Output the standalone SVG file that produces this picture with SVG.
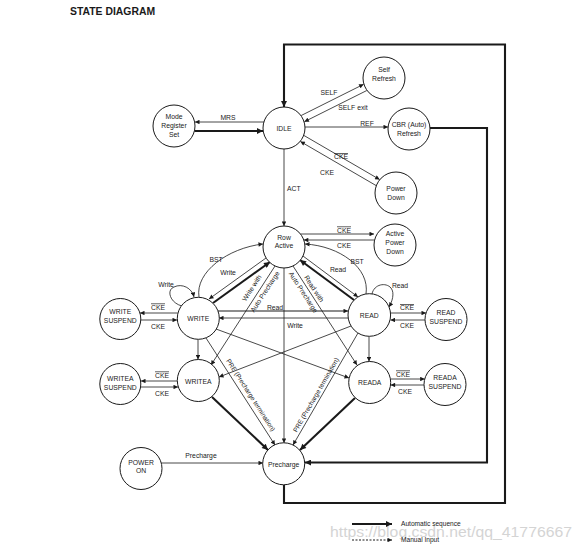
<svg xmlns="http://www.w3.org/2000/svg" width="583" height="557" viewBox="0 0 583 557">
<style>
text{font-family:"Liberation Sans",Arial,Helvetica,sans-serif;font-size:6.8px;fill:#1a1a1a}
.nd{text-anchor:middle}
.node circle{fill:#fff;stroke:#1a1a1a;stroke-width:1}
.c{fill:none;stroke:#1a1a1a;stroke-width:0.8}
.t{fill:none;stroke:#1a1a1a;stroke-width:2.1}
.ov{text-decoration:overline}
.lb{text-anchor:middle}
</style>
<defs>
<marker id="a" viewBox="0 0 10 10" refX="10" refY="5" markerWidth="5.5" markerHeight="4.5" markerUnits="userSpaceOnUse" orient="auto"><path d="M0,0L10,5L0,10z" fill="#1a1a1a"/></marker>
<marker id="b" viewBox="0 0 10 10" refX="10" refY="5" markerWidth="7" markerHeight="6" markerUnits="userSpaceOnUse" orient="auto"><path d="M0,0L10,5L0,10z" fill="#1a1a1a"/></marker>
</defs>
<rect width="583" height="557" fill="#fff"/>
<text x="70" y="15" style="font-size:10.4px;font-weight:bold">STATE DIAGRAM</text>
<text x="330" y="537" textLength="242" lengthAdjust="spacingAndGlyphs" style="font-size:14px;fill:#d4d4d4">https://blog.csdn.net/qq_41776667</text>

<g id="connectors">
<!-- MRS -->
<path class="c" d="M264,122H195" marker-end="url(#a)"/>
<path class="t" d="M194.5,131H263" marker-end="url(#b)"/>
<text class="lb" x="228" y="120">MRS</text>
<!-- SELF -->
<path class="c" d="M301.2,115.5L363.6,84.3" marker-end="url(#a)"/>
<path class="c" d="M366.8,90.5L304.4,121.7" marker-end="url(#a)"/>
<text class="lb" x="329" y="95">SELF</text>
<text class="lb" x="353" y="109.5">SELF exit</text>
<!-- REF -->
<path class="c" d="M305,127H388" marker-end="url(#a)"/>
<text class="lb" x="367" y="125.5">REF</text>
<!-- Power down -->
<path class="c" d="M304,135.5L379.6,179.5" marker-end="url(#a)"/>
<path class="c" d="M376,185.5L300.4,141.5" marker-end="url(#a)"/>
<text class="lb ov" x="341" y="159">CKE</text>
<text class="lb" x="327" y="175">CKE</text>
<!-- ACT -->
<path class="c" d="M284,149V226" marker-end="url(#a)"/>
<text x="287" y="190.5">ACT</text>
<!-- Active power down -->
<path class="c" d="M300.5,234H374" marker-end="url(#a)"/>
<path class="c" d="M374.6,240H303.8" marker-end="url(#a)"/>
<text class="lb ov" x="344" y="232.5">CKE</text>
<text class="lb" x="344" y="248">CKE</text>
<!-- WRITE side -->
<path class="c" d="M199,297C195,272 228,248 263,244" marker-end="url(#a)"/>
<text class="lb" x="216" y="262">BST</text>
<path class="c" d="M266,258L209,299" marker-end="url(#a)"/>
<text class="lb" x="228" y="275">Write</text>
<path class="t" d="M213,303L270,262" marker-end="url(#b)"/>
<!-- READ side -->
<path class="c" d="M366,294C370,268 340,246 305,244" marker-end="url(#a)"/>
<text class="lb" x="357" y="264">BST</text>
<path class="c" d="M303,256L358,297" marker-end="url(#a)"/>
<text class="lb" x="338" y="272">Read</text>
<path class="t" d="M354,300L300,260" marker-end="url(#b)"/>
<!-- Write with auto precharge -->
<path class="c" d="M275,266L211,365" marker-end="url(#a)"/>
<g transform="translate(258,292) rotate(-57)">
<text class="lb" x="0" y="-5">Write with</text>
<text class="lb" x="4" y="8">Auto Precharge</text>
</g>
<!-- Read with auto precharge -->
<path class="c" d="M293,266L357,365" marker-end="url(#a)"/>
<g transform="translate(308.5,290) rotate(57)">
<text class="lb" x="2" y="-3">Read with</text>
<text class="lb" x="-1" y="8">Auto Precharge</text>
</g>
<!-- Row Active to Precharge -->
<path class="c" d="M284,268V443" marker-end="url(#a)"/>
<!-- WRITE <-> READ -->
<path class="c" style="stroke-width:1.1" d="M218,311H348" marker-end="url(#a)"/>
<text class="lb" x="275" y="309.5">Read</text>
<path class="c" d="M348,318H219" marker-end="url(#a)"/>
<text class="lb" x="295" y="327.5">Write</text>
<!-- self loops -->
<path class="c" d="M182,306C170,303 166,290 174,287C182,283 192,288 194,297" marker-end="url(#a)"/>
<text class="lb" x="166" y="287">Write</text>
<path class="c" d="M372,294C374,284 386,282 391,288C395,293 392,302 389,307" marker-end="url(#a)"/>
<text class="lb" x="400" y="287.5">Read</text>
<!-- suspend -->
<path class="c" d="M177.6,313H140" marker-end="url(#a)"/>
<path class="c" d="M140.5,320H177" marker-end="url(#a)"/>
<text class="lb ov" x="158" y="309.5">CKE</text>
<text class="lb" x="158" y="328.5">CKE</text>
<path class="c" d="M390.5,313H426" marker-end="url(#a)"/>
<path class="c" d="M425,320H390.5" marker-end="url(#a)"/>
<text class="lb ov" x="407" y="310">CKE</text>
<text class="lb" x="407" y="328">CKE</text>
<path class="c" d="M177.3,381H141" marker-end="url(#a)"/>
<path class="c" d="M140.6,387H178" marker-end="url(#a)"/>
<text class="lb ov" x="162" y="377.5">CKE</text>
<text class="lb" x="162" y="395.5">CKE</text>
<path class="c" d="M390.4,379H424.7" marker-end="url(#a)"/>
<path class="c" d="M424,385H390.6" marker-end="url(#a)"/>
<text class="lb ov" x="403" y="376.5">CKE</text>
<text class="lb" x="405" y="394">CKE</text>
<!-- verticals -->
<path class="c" d="M198,339.5V359.5" marker-end="url(#a)"/>
<path class="c" d="M369,336.5V361.5" marker-end="url(#a)"/>
<!-- crossings -->
<path class="c" d="M216,329L349,378" marker-end="url(#a)"/>
<path class="c" d="M351,326L219,377" marker-end="url(#a)"/>
<!-- PRE lines -->
<path class="c" d="M206,338L275,445" marker-end="url(#a)"/>
<g transform="translate(242.8,395) rotate(57.2)"><text class="lb" x="4.4" y="-4.4" style="font-size:6.6px">PRE (Precharge termination)</text></g>
<path class="c" d="M358,333L293,445" marker-end="url(#a)"/>
<g transform="translate(322,395) rotate(-60)"><text class="lb" x="-3" y="-3" style="font-size:6.6px">PRE (Precharge termination)</text></g>
<!-- thick to precharge -->
<path class="t" d="M212,397L268,450" marker-end="url(#b)"/>
<path class="t" d="M355,398L300,450" marker-end="url(#b)"/>
<!-- power on -->
<path class="c" d="M161.3,463H263" marker-end="url(#a)"/>
<text class="lb" x="201" y="458">Precharge</text>
<!-- CBR loop -->
<path class="t" d="M430,128H487V462.5H305" marker-end="url(#b)"/>
<!-- outer loop -->
<path class="t" d="M284,485V503H505V44.5H284V107" marker-end="url(#b)"/>
<!-- legend -->
<path class="t" d="M352,524H392" marker-end="url(#b)"/>
<path class="c" style="stroke-dasharray:2,1.5;stroke-width:1" d="M352,540H392" marker-end="url(#a)"/>
</g>
<text x="401" y="526" style="font-size:6.6px">Automatic sequence</text>
<text x="401" y="542" style="font-size:6.6px">Manual Input</text>

<g id="idle" class="node"><circle cx="284" cy="128" r="21"/><text class="nd" x="284" y="130.5">IDLE</text></g>
<g id="mrs" class="node"><circle cx="174" cy="126" r="21"/><text class="nd" x="174" y="118.5">Mode</text><text class="nd" x="174" y="127.5">Register</text><text class="nd" x="174" y="136.5">Set</text></g>
<g id="selfrefresh" class="node"><circle cx="384" cy="78" r="21"/><text class="nd" x="384" y="72">Self</text><text class="nd" x="384" y="80.5">Refresh</text></g>
<g id="cbr" class="node"><circle cx="409" cy="129" r="21"/><text class="nd" x="409" y="126.5">CBR (Auto)</text><text class="nd" x="409" y="135.5">Refresh</text></g>
<g id="powerdown" class="node"><circle cx="396" cy="193" r="21"/><text class="nd" x="396" y="191">Power</text><text class="nd" x="396" y="199.5">Down</text></g>
<g id="rowactive" class="node"><circle cx="284" cy="247" r="21"/><text class="nd" x="284" y="239.5">Row</text><text class="nd" x="284" y="248">Active</text></g>
<g id="activepowerdown" class="node"><circle cx="395" cy="245" r="21"/><text class="nd" x="395" y="236">Active</text><text class="nd" x="395" y="245">Power</text><text class="nd" x="395" y="254">Down</text></g>
<g id="write" class="node"><circle cx="198.3" cy="318.3" r="21"/><text class="nd" x="198.3" y="320.5">WRITE</text></g>
<g id="read" class="node"><circle cx="369.3" cy="315" r="21.3"/><text class="nd" x="369.3" y="318">READ</text></g>
<g id="writesuspend" class="node"><circle cx="120.3" cy="319" r="20.5"/><text class="nd" x="120.3" y="314">WRITE</text><text class="nd" x="120.3" y="323">SUSPEND</text></g>
<g id="readsuspend" class="node"><circle cx="446" cy="319.5" r="21"/><text class="nd" x="446" y="314.5">READ</text><text class="nd" x="446" y="323.5">SUSPEND</text></g>
<g id="writea" class="node"><circle cx="198.3" cy="380.5" r="21"/><text class="nd" x="198.3" y="383.5">WRITEA</text></g>
<g id="writeasuspend" class="node"><circle cx="120.3" cy="384" r="20.5"/><text class="nd" x="120.3" y="381">WRITEA</text><text class="nd" x="120.3" y="390">SUSPEND</text></g>
<g id="reada" class="node"><circle cx="369.7" cy="382.5" r="21"/><text class="nd" x="369.7" y="385">READA</text></g>
<g id="readasuspend" class="node"><circle cx="445" cy="384.5" r="21"/><text class="nd" x="445" y="379.5">READA</text><text class="nd" x="445" y="388.5">SUSPEND</text></g>
<g id="poweron" class="node"><circle cx="141" cy="468.5" r="21"/><text class="nd" x="141" y="464.5">POWER</text><text class="nd" x="141" y="473">ON</text></g>
<g id="precharge" class="node"><circle cx="283.7" cy="463.8" r="21"/><text class="nd" x="283.7" y="466.5">Precharge</text></g>
</svg>
